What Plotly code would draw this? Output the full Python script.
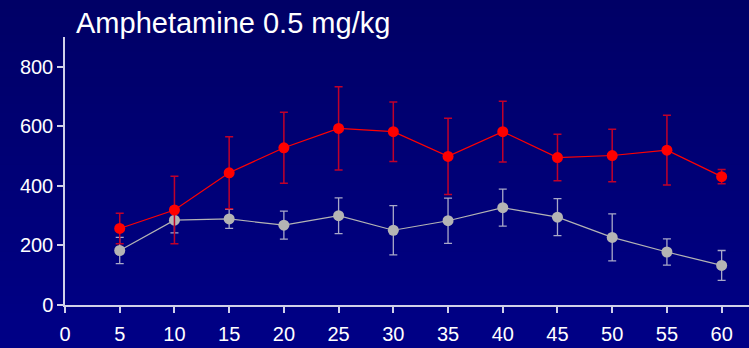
import plotly.graph_objects as go

minutes = [5, 10, 15, 20, 25, 30, 35, 40, 45, 50, 55, 60]
amph_mean = [257, 319, 444, 528, 593, 582, 499, 582, 495, 502, 520, 431]
amph_err = [51, 113, 121, 119, 140, 100, 128, 102, 78, 88, 117, 24]
ctrl_mean = [183, 285, 289, 268, 300, 251, 283, 327, 295, 227, 178, 133]
ctrl_err = [44, 43, 32, 47, 60, 83, 76, 62, 62, 79, 44, 50]
x_ticks = list(range(0, 61, 5))
y_ticks = [0, 200, 400, 600, 800]
title_text = "Amphetamine 0.5 mg/kg"

W, H = 749, 348
ml, mr, mt, mb = 65, 0, 37, 43

fig = go.Figure()
fig.add_trace(go.Scatter(
    x=minutes, y=ctrl_mean, mode="lines+markers",
    line=dict(color="#b4b4b4", width=1.2),
    marker=dict(color="#b4b4b4", size=11),
    error_y=dict(type="data", array=ctrl_err, color="#a8a8c8", thickness=1.3, width=4),
    showlegend=False,
))
fig.add_trace(go.Scatter(
    x=minutes, y=amph_mean, mode="lines+markers",
    line=dict(color="#ff0000", width=1.2),
    marker=dict(color="#ff0000", size=11),
    error_y=dict(type="data", array=amph_err, color="#c0002a", thickness=1.5, width=4),
    showlegend=False,
))

# vertical background gradient
n = 40
ph = H - mt - mb
y0p = -mb / ph
y1p = 1 + mt / ph
top = (0, 0, 0x66)
bot = (0, 0, 0x86)
shapes = []
for i in range(n):
    f = i / (n - 1)
    c = tuple(int(round(top[k] + (bot[k] - top[k]) * f)) for k in range(3))
    ya = y1p - (y1p - y0p) * i / n
    yb = y1p - (y1p - y0p) * (i + 1) / n
    shapes.append(dict(type="rect", xref="paper", yref="paper",
                       x0=-ml / (W - ml) - 0.01, x1=1.01, y0=yb - 0.002, y1=ya + 0.002,
                       fillcolor="rgb(%d,%d,%d)" % c, line=dict(width=0), layer="below"))

fig.update_layout(
    width=W, height=H,
    margin=dict(l=ml, r=mr, t=mt, b=mb, autoexpand=False),
    paper_bgcolor="#00006e", plot_bgcolor="rgba(0,0,0,0)",
    shapes=shapes,
    font=dict(family="Liberation Sans, Arial", color="white", size=20),
    annotations=[dict(text=title_text, xref="paper", yref="paper",
                      x=(74 - ml) / (W - ml), y=1 + (mt - 23) / ph,
                      xanchor="left", yanchor="middle", showarrow=False,
                      font=dict(size=29, color="white"))],
)
fig.update_xaxes(range=[0, 62.5], tickvals=x_ticks, showgrid=False, zeroline=False,
                 showline=True, linecolor="#d0d0e8", linewidth=1.5,
                 ticks="outside", ticklen=6, tickcolor="#d0d0e8", tickwidth=1.5,
                 ticklabelstandoff=4,
                 tickfont=dict(size=20, color="white"))
fig.update_yaxes(range=[0, 900], tickvals=y_ticks, showgrid=False, zeroline=False,
                 showline=True, linecolor="#d0d0e8", linewidth=1.5,
                 ticks="outside", ticklen=6, tickcolor="#d0d0e8", tickwidth=1.5,
                 tickfont=dict(size=20, color="white"))

fig.write_html("out.html", config={"displayModeBar": False},
               post_script="document.body.style.margin='0';document.body.style.overflow='hidden';")
